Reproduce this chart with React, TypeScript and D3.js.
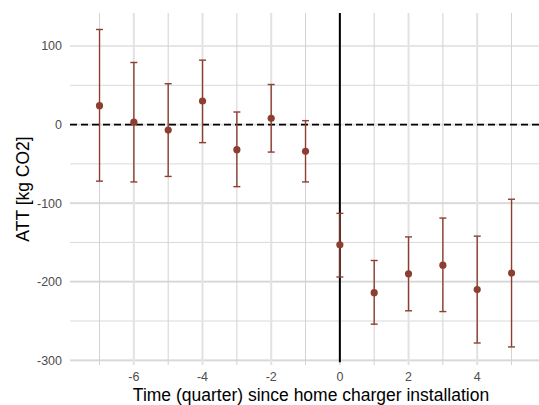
import React from 'react'
import { scaleLinear, range } from 'd3'

const periods = [-7, -6, -5, -4, -3, -2, -1, 0, 1, 2, 3, 4, 5]
const att = [24, 3, -7, 30, -32, 8, -34, -153, -214, -190, -179, -210, -189]
const upper = [121, 79, 52, 82, 16, 51, 5, -113, -173, -143, -119, -142, -95]
const lower = [-72, -73, -66, -23, -79, -35, -73, -194, -254, -237, -238, -278, -283]
const xTicks = [-6, -4, -2, 0, 2, 4]
const yTicks = [100, 0, -100, -200, -300]

const width = 539
const height = 405
const margin = { top: 13, right: 0, bottom: 40, left: 70 }

function App() {
    const x = scaleLinear().domain([-7.86, 5.8]).range([margin.left, width - margin.right])
    const y = scaleLinear().domain([142, -306]).range([margin.top, height - margin.bottom])
    const color = '#8c3f30'
    const capHalf = 3.5
    const font = '"Liberation Sans", Arial, sans-serif'

    const xMinor = range(-7, 6)
    const yMinor = [50, -50, -150, -250]

    return (
        <svg width={width} height={height} style={{ position: 'absolute', left: 0, top: 0 }}>
            <rect width={width} height={height} fill="white" />
            {/* grid */}
            <g>
                {yTicks.map(t => (
                    <line key={'ym' + t} x1={x.range()[0]} x2={x.range()[1]} y1={y(t)} y2={y(t)}
                        stroke="#e6e6e6" strokeWidth={2.2} />
                ))}
                {yTicks.filter(t => t < 0).map(t => (
                    <line key={'yd' + t} x1={x.range()[0]} x2={x.range()[1]} y1={y(t)} y2={y(t)}
                        stroke="#d4d4d4" strokeWidth={1} />
                ))}
                {yMinor.map(t => (
                    <line key={'yn' + t} x1={x.range()[0]} x2={x.range()[1]} y1={y(t)} y2={y(t)}
                        stroke="#d9d9d9" strokeWidth={1} />
                ))}
                {xTicks.map(t => (
                    <line key={'xm' + t} x1={x(t)} x2={x(t)} y1={y.range()[0]} y2={y.range()[1]}
                        stroke="#e8e8e8" strokeWidth={2.2} />
                ))}
                {xMinor.map(t => (
                    <line key={'xn' + t} x1={x(t)} x2={x(t)} y1={y.range()[0]} y2={y.range()[1]}
                        stroke={t % 2 === 0 ? '#e0e0e0' : '#d2d2d2'} strokeWidth={1} />
                ))}
            </g>
            {/* reference lines */}
            <line x1={x.range()[0]} x2={x.range()[1]} y1={y(0)} y2={y(0)}
                stroke="black" strokeWidth={1.7} strokeDasharray="7,4" />
            <line x1={x(0)} x2={x(0)} y1={y.range()[0]} y2={y(-300) + 2}
                stroke="black" strokeWidth={2} />
            {/* error bars */}
            <g stroke={color} strokeWidth={1.4}>
                {periods.map((p, i) => (
                    <g key={p}>
                        <line x1={x(p)} x2={x(p)} y1={y(upper[i])} y2={y(lower[i])} />
                        <line x1={x(p) - capHalf} x2={x(p) + capHalf} y1={y(upper[i])} y2={y(upper[i])} />
                        <line x1={x(p) - capHalf} x2={x(p) + capHalf} y1={y(lower[i])} y2={y(lower[i])} />
                    </g>
                ))}
            </g>
            <g fill={color}>
                {periods.map((p, i) => (
                    <circle key={p} cx={x(p)} cy={y(att[i])} r={3.6} />
                ))}
            </g>
            {/* axes labels */}
            <g fontFamily={font} fontSize={12.5} fill="#4d4d4d">
                {yTicks.map(t => (
                    <text key={t} x={margin.left - 8} y={y(t)} dy="0.35em" textAnchor="end">{t}</text>
                ))}
                {xTicks.map(t => (
                    <text key={t} x={x(t)} y={381} textAnchor="middle">{t}</text>
                ))}
            </g>
            <text x={311} y={401} textAnchor="middle"
                fontFamily={font} fontSize={17.5} fill="black">
                Time (quarter) since home charger installation
            </text>
            <text transform={`translate(${29}, ${189}) rotate(-90)`}
                textAnchor="middle" fontFamily={font} fontSize={17.5} fill="black">
                ATT [kg CO2]
            </text>
        </svg>
    )
}

export default App
